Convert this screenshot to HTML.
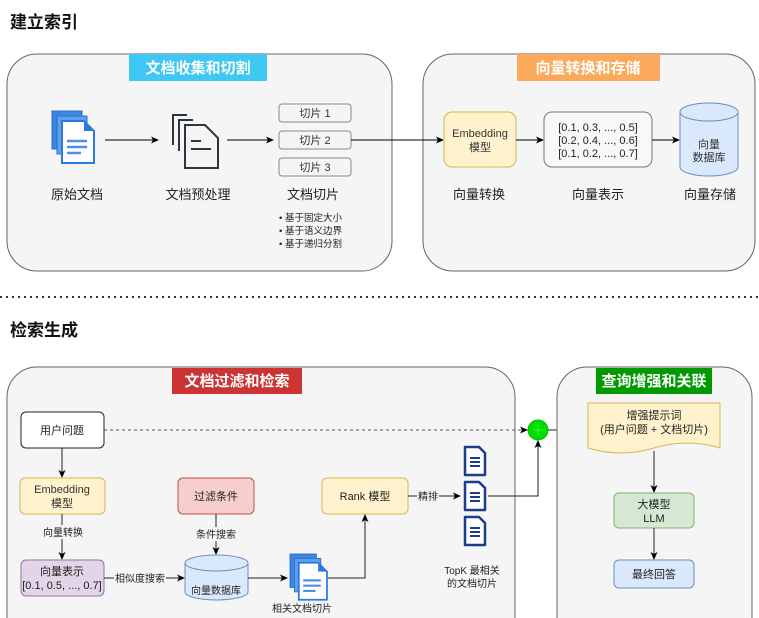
<!DOCTYPE html>
<html><head><meta charset="utf-8"><style>
html,body{margin:0;padding:0;background:#fff;}
svg{display:block;font-family:"Liberation Sans","Noto Sans CJK SC",sans-serif;}
</style></head><body>
<svg width="759" height="618" viewBox="0 0 759 618" xmlns="http://www.w3.org/2000/svg">
<defs>
<marker id="a" markerWidth="8" markerHeight="8" refX="7" refY="4" orient="auto" markerUnits="userSpaceOnUse"><path d="M0,0.5 L8,4 L0,7.5 L2,4 Z" fill="#000"/></marker>
<g id="bdoc"><path d="M0,0 h14 l6,6 v22 h-20 z" fill="#fff" stroke="#1a3d8f" stroke-width="2.5" stroke-linejoin="round"/><path d="M5,11 h10 M5,15 h10 M5,19 h10" stroke="#1a3d8f" stroke-width="2"/></g>
<g id="blue"><rect x="0" y="0" width="30" height="38" fill="#3c87e0" stroke="#2a6fc9"/><rect x="5" y="5" width="30" height="38" fill="#5ea0f0" stroke="#2a6fc9"/><path d="M10,10 h22 l10,10 v32 h-32 z" fill="#fff" stroke="#2a7ae0" stroke-width="2"/><path d="M32,10 v10 h10 z" fill="#2a7ae0"/><path d="M15,30 h20 M15,36 h20 M15,42 h14" stroke="#4c90e8" stroke-width="2.5"/></g>
</defs>
<text x="10" y="28" font-size="17" font-weight="bold" fill="#111">建立索引</text>

<rect x="7" y="54" width="385" height="217" rx="30" fill="#f5f5f5" stroke="#666"/>
<rect x="129" y="54" width="138" height="27" fill="#3fc8f4"/>
<text x="198" y="73" font-size="15" font-weight="bold" fill="#fff" text-anchor="middle">文档收集和切割</text>
<use href="#blue" x="52" y="111"/>
<line x1="105" y1="140" x2="158" y2="140" stroke="#000" marker-end="url(#a)"/>
<g fill="none" stroke="#2d3440" stroke-width="2">
<path d="M173,145 V115 h14"/><path d="M179,151 V120 h14"/><path d="M185,125 h20 l13,13 v30 h-33 z" fill="#f5f5f5"/><path d="M191,141 h10 M191,149 h20"/>
</g>
<line x1="227" y1="140" x2="273" y2="140" stroke="#000" marker-end="url(#a)"/>
<g font-size="11" fill="#333" text-anchor="middle">
<rect x="279" y="104" width="72" height="18" rx="3" fill="#f5f5f5" stroke="#888"/><text x="315" y="117">切片 1</text>
<rect x="279" y="131" width="72" height="18" rx="3" fill="#f5f5f5" stroke="#888"/><text x="315" y="144">切片 2</text>
<rect x="279" y="158" width="72" height="18" rx="3" fill="#f5f5f5" stroke="#888"/><text x="315" y="171">切片 3</text>
</g>
<g font-size="13" fill="#222" text-anchor="middle">
<text x="77" y="199">原始文档</text><text x="198" y="199">文档预处理</text><text x="313" y="199">文档切片</text>
</g>
<g font-size="9.5" fill="#222"><text x="279" y="221">•  基于固定大小</text><text x="279" y="234">•  基于语义边界</text><text x="279" y="247">•  基于递归分割</text></g>

<rect x="423" y="54" width="332" height="217" rx="30" fill="#f5f5f5" stroke="#666"/>
<rect x="517" y="54" width="143" height="27" fill="#fbaa5c"/>
<text x="588" y="73" font-size="15" font-weight="bold" fill="#fff" text-anchor="middle">向量转换和存储</text>
<line x1="351" y1="140" x2="443" y2="140" stroke="#000" marker-end="url(#a)"/>
<rect x="444" y="112" width="72" height="55" rx="8" fill="#fff2cc" stroke="#d6b656"/>
<text x="480" y="137" font-size="11" fill="#333" text-anchor="middle">Embedding</text><text x="480" y="151" font-size="11" fill="#333" text-anchor="middle">模型</text>
<line x1="516" y1="140" x2="543" y2="140" stroke="#000" marker-end="url(#a)"/>
<rect x="544" y="112" width="108" height="55" rx="8" fill="#f8f8f8" stroke="#777"/>
<g font-size="11" fill="#222" text-anchor="middle"><text x="598" y="131">[0.1, 0.3, ..., 0.5]</text><text x="598" y="144">[0.2, 0.4, ..., 0.6]</text><text x="598" y="157">[0.1, 0.2, ..., 0.7]</text></g>
<line x1="652" y1="140" x2="679" y2="140" stroke="#000" marker-end="url(#a)"/>
<path d="M680,112 v55 a29,9 0 0 0 58,0 v-55" fill="#dae8fc" stroke="#6c8ebf"/>
<ellipse cx="709" cy="112" rx="29" ry="9" fill="#dae8fc" stroke="#6c8ebf"/>
<text x="709" y="148" font-size="11" fill="#333" text-anchor="middle">向量</text><text x="709" y="161" font-size="11" fill="#333" text-anchor="middle">数据库</text>
<g font-size="13" fill="#222" text-anchor="middle"><text x="479" y="199">向量转换</text><text x="598" y="199">向量表示</text><text x="710" y="199">向量存储</text></g>

<line x1="0" y1="297" x2="759" y2="297" stroke="#333" stroke-width="2" stroke-dasharray="2 4"/>
<text x="10" y="336" font-size="17" font-weight="bold" fill="#111">检索生成</text>

<rect x="7" y="367" width="508" height="280" rx="30" fill="#f5f5f5" stroke="#666"/>
<rect x="172" y="368" width="130" height="26" fill="#cc3333"/>
<text x="237" y="386" font-size="15" font-weight="bold" fill="#fff" text-anchor="middle">文档过滤和检索</text>
<rect x="21" y="412" width="83" height="36" rx="5" fill="#fff" stroke="#222"/>
<text x="62" y="434" font-size="11" fill="#222" text-anchor="middle">用户问题</text>
<line x1="104" y1="430" x2="527" y2="430" stroke="#555" stroke-dasharray="3 3" marker-end="url(#a)"/>
<line x1="62" y1="448" x2="62" y2="477" stroke="#222" marker-end="url(#a)"/>
<rect x="20" y="478" width="85" height="36" rx="5" fill="#fff2cc" stroke="#d6b656"/>
<text x="62" y="493" font-size="11" fill="#333" text-anchor="middle">Embedding</text><text x="62" y="507" font-size="11" fill="#333" text-anchor="middle">模型</text>
<line x1="62" y1="514" x2="62" y2="559" stroke="#222" marker-end="url(#a)"/>
<rect x="40" y="525" width="46" height="14" fill="#f5f5f5"/>
<text x="63" y="536" font-size="10" fill="#222" text-anchor="middle">向量转换</text>
<rect x="21" y="560" width="83" height="36" rx="5" fill="#e1d5e7" stroke="#9673a6"/>
<text x="62" y="575" font-size="11" fill="#222" text-anchor="middle">向量表示</text><text x="62" y="589" font-size="11" fill="#222" text-anchor="middle">[0.1, 0.5, ..., 0.7]</text>
<line x1="104" y1="578" x2="184" y2="578" stroke="#222" marker-end="url(#a)"/>
<rect x="114" y="571" width="52" height="14" fill="#f5f5f5"/>
<text x="140" y="582" font-size="10" fill="#222" text-anchor="middle">相似度搜索</text>
<rect x="178" y="478" width="76" height="36" rx="5" fill="#f8cecc" stroke="#b85450"/>
<text x="216" y="500" font-size="11" fill="#222" text-anchor="middle">过滤条件</text>
<line x1="216" y1="514" x2="216" y2="554" stroke="#222" marker-end="url(#a)"/>
<rect x="193" y="527" width="46" height="14" fill="#f5f5f5"/>
<text x="216" y="538" font-size="10" fill="#222" text-anchor="middle">条件搜索</text>
<path d="M185,563 v29 a31.5,8 0 0 0 63,0 v-29" fill="#dae8fc" stroke="#6c8ebf"/>
<ellipse cx="216.5" cy="563" rx="31.5" ry="8" fill="#dae8fc" stroke="#6c8ebf"/>
<text x="216" y="594" font-size="10" fill="#222" text-anchor="middle">向量数据库</text>
<line x1="248" y1="578" x2="287" y2="578" stroke="#222" marker-end="url(#a)"/>
<g transform="translate(290,554) scale(0.88)"><use href="#blue"/></g>
<text x="302" y="612" font-size="10" fill="#222" text-anchor="middle">相关文档切片</text>
<path d="M328,578 H365 V515" fill="none" stroke="#222" marker-end="url(#a)"/>
<rect x="322" y="478" width="86" height="36" rx="5" fill="#fff2cc" stroke="#d6b656"/>
<text x="365" y="500" font-size="11" fill="#222" text-anchor="middle">Rank 模型</text>
<line x1="408" y1="496" x2="460" y2="496" stroke="#222" marker-end="url(#a)"/>
<rect x="417" y="489" width="22" height="14" fill="#f5f5f5"/>
<text x="428" y="500" font-size="10" fill="#222" text-anchor="middle">精排</text>
<use href="#bdoc" x="465" y="447"/><use href="#bdoc" x="465" y="482"/><use href="#bdoc" x="465" y="517"/>
<text x="472" y="574" font-size="10" fill="#222" text-anchor="middle">TopK 最相关</text><text x="472" y="587" font-size="10" fill="#222" text-anchor="middle">的文档切片</text>
<path d="M488,496 H538 V441" fill="none" stroke="#222" marker-end="url(#a)"/>
<circle cx="538" cy="430" r="10" fill="#00dd00" stroke="#00bb00"/>
<path d="M533,430 h10 M538,425 v10" stroke="#33ff33" stroke-width="1"/>
<line x1="548" y1="430" x2="587" y2="430" stroke="#222" marker-end="url(#a)"/>

<rect x="557" y="367" width="195" height="280" rx="30" fill="#f5f5f5" stroke="#666"/>
<rect x="596" y="368" width="116" height="26" fill="#009900"/>
<text x="654" y="386" font-size="15" font-weight="bold" fill="#fff" text-anchor="middle">查询增强和关联</text>
<path d="M588,403 H720 V448 Q687,438 654,448 Q621,458 588,448 Z" fill="#fff2cc" stroke="#d6b656"/>
<text x="654" y="419" font-size="11" fill="#222" text-anchor="middle">增强提示词</text><text x="654" y="433" font-size="11" fill="#222" text-anchor="middle">(用户问题 + 文档切片)</text>
<line x1="654" y1="451" x2="654" y2="492" stroke="#222" marker-end="url(#a)"/>
<rect x="614" y="493" width="80" height="35" rx="5" fill="#d5e8d4" stroke="#82b366"/>
<text x="654" y="508" font-size="11" fill="#222" text-anchor="middle">大模型</text><text x="654" y="522" font-size="11" fill="#222" text-anchor="middle">LLM</text>
<line x1="654" y1="528" x2="654" y2="559" stroke="#222" marker-end="url(#a)"/>
<rect x="614" y="560" width="80" height="28" rx="5" fill="#dae8fc" stroke="#6c8ebf"/>
<text x="654" y="578" font-size="11" fill="#222" text-anchor="middle">最终回答</text>
</svg>
</body></html>
